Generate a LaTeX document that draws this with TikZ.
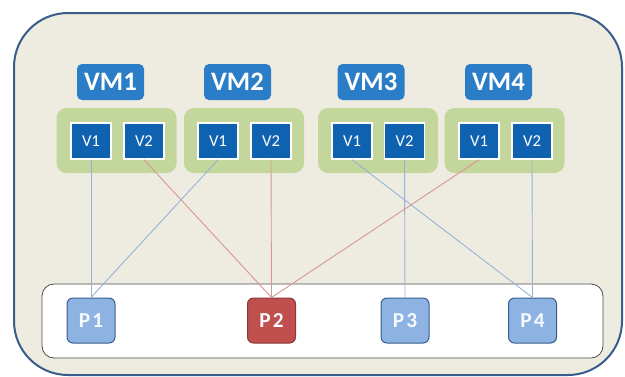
\documentclass[tikz,border=0pt]{standalone}
\usepackage{fontspec}
\setmainfont{Carlito}
\newlength\pxu
\setlength\pxu{0.75pt}
\definecolor{bgtan}{HTML}{EEECE1}
\definecolor{frameblue}{HTML}{385D8A}
\definecolor{vmblue}{HTML}{2A7DC6}
\definecolor{vblue}{HTML}{0F62B0}
\definecolor{grpgreen}{HTML}{C3D69B}
\definecolor{plight}{HTML}{8DB3E2}
\definecolor{pred}{HTML}{C0504D}
\definecolor{predline}{HTML}{8C3836}
\definecolor{linkblue}{HTML}{95B3D7}
\definecolor{linkred}{HTML}{D99694}
\tikzset{
  vmlabel/.style={fill=vmblue, rounded corners=5\pxu, minimum width=67\pxu,
    minimum height=36\pxu, inner sep=0pt, text=white,
    font=\fontsize{20}{21}\selectfont\bfseries},
  grp/.style={fill=grpgreen, rounded corners=10\pxu, minimum width=120\pxu,
    minimum height=65\pxu, inner sep=0pt},
  vport/.style={fill=vblue, draw=white, line width=1.5\pxu, minimum width=40\pxu,
    minimum height=36\pxu, inner sep=0pt, text=white,
    font=\fontsize{12.5}{13}\selectfont},
  pport/.style={draw=frameblue, line width=1\pxu, rounded corners=6\pxu,
    minimum width=48\pxu, minimum height=45\pxu, inner sep=0pt,
    text=white!92!plight, font=\fontsize{16}{17}\selectfont\bfseries},
  pblue/.style={pport, fill=plight},
  pbad/.style={pport, fill=pred, draw=predline},
  bluelink/.style={draw=linkblue, line width=0.9\pxu},
  redlink/.style={draw=linkred, line width=0.9\pxu},
}
\begin{document}
\begin{tikzpicture}[x=\pxu, y=-\pxu]
\useasboundingbox (0,0) rectangle (625,376);
\fill[white] (0,0) rectangle (625,376);

% host frame
\node[draw=frameblue, fill=bgtan, line width=2\pxu, rounded corners=54\pxu,
  minimum width=608\pxu, minimum height=362\pxu, inner sep=0pt] (host) at (318,194) {};

% physical port strip
\node[draw=black!70, fill=white, line width=0.8\pxu, rounded corners=12\pxu,
  minimum width=561\pxu, minimum height=74\pxu, inner sep=0pt] (strip) at (322.5,321) {};

% VM labels
\node[vmlabel] (vm1) at (110.5,82) {VM1};
\node[vmlabel] (vm2) at (237.5,82) {VM2};
\node[vmlabel] (vm3) at (371,82) {VM3};
\node[vmlabel] (vm4) at (498.5,82) {VM4};

% VM port groups
\node[grp] (g1) at (116.5,140.5) {};
\node[grp] (g2) at (244,140.5) {};
\node[grp] (g3) at (378,140.5) {};
\node[grp] (g4) at (504.5,140.5) {};

% virtual ports
\node[vport] (a1) at (91,141) {V1};
\node[vport] (a2) at (144,141) {V2};
\node[vport] (b1) at (218,141) {V1};
\node[vport] (b2) at (271,141) {V2};
\node[vport] (c1) at (352,141) {V1};
\node[vport] (c2) at (404.5,141) {V2};
\node[vport] (d1) at (479,141) {V1};
\node[vport] (d2) at (532,141) {V2};

% physical ports
\node[pblue] (p1) at (91,320.5) {P\kern2\pxu 1};
\node[pbad]  (p2) at (271.5,320.5) {P\kern2\pxu 2};
\node[pblue] (p3) at (405,320.5) {P\kern2\pxu 3};
\node[pblue] (p4) at (532.5,320.5) {P\kern2\pxu 4};

% links
\draw[bluelink] (a1.south) -- (p1.north);
\draw[redlink]  (a2.south) -- (p2.north);
\draw[bluelink] (b1.south) -- (p1.north);
\draw[redlink]  (b2.south) -- (p2.north);
\draw[bluelink] (c1.south) -- (p4.north);
\draw[bluelink] (c2.south) -- (p3.north);
\draw[redlink]  (d1.south) -- (p2.north);
\draw[bluelink] (d2.south) -- (p4.north);
\end{tikzpicture}
\end{document}
